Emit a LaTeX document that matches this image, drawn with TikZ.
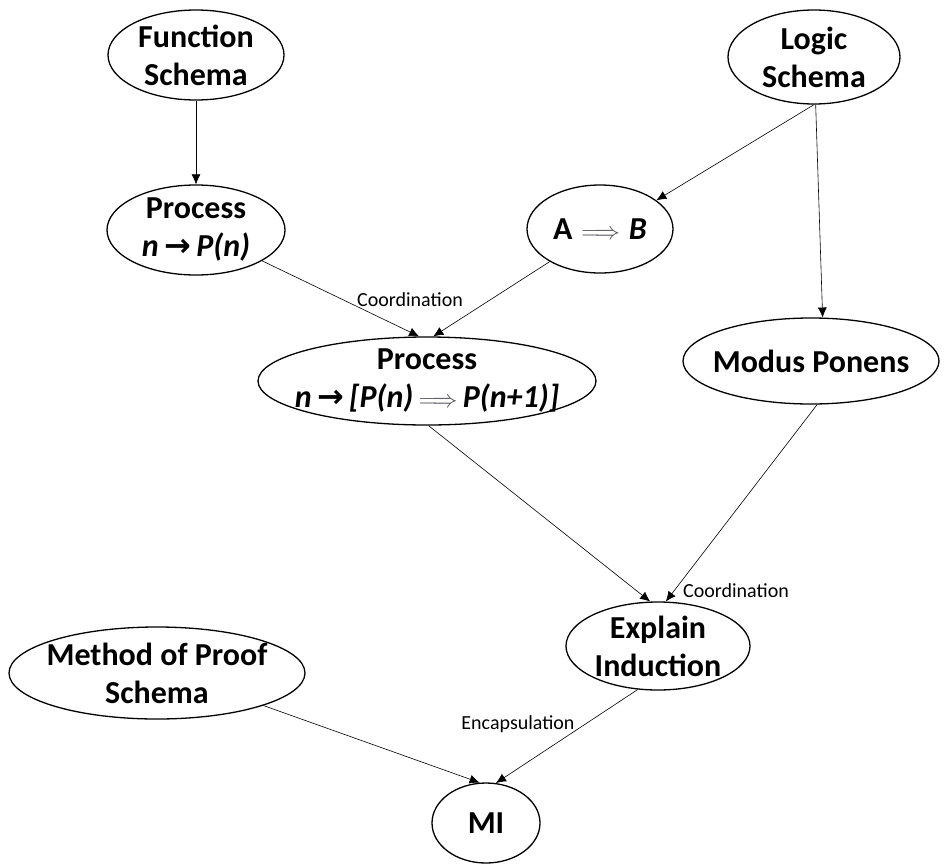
\documentclass[tikz,border=0pt]{standalone}
\usepackage{fontspec}
\setmainfont{Carlito}
\newfontfamily\dejavu{DejaVu Sans}
\usetikzlibrary{shapes.geometric,arrows.meta}
\definecolor{arrgray}{RGB}{80,80,92}
\newcommand{\rarr}{{\dejavu\bfseries\upshape →}}
\newcommand{\dimpar}{{\color{arrgray}$\Longrightarrow$}}
\begin{document}
\begin{tikzpicture}[x=1pt,y=-1pt,
  ell/.style={draw,ellipse,line width=1.3pt,inner sep=0pt},
  txt/.style={align=center,inner sep=0pt,font=\fontsize{32}{38}\selectfont\bfseries},
  conn/.style={-{Latex[length=10pt,width=9pt]},line width=0.6pt},
  lab/.style={font=\fontsize{20}{22}\selectfont}]
\useasboundingbox (0,0) rectangle (945,865);

\node[ell,minimum width=176pt,minimum height=90pt] (fs) at (196,55) {};
\node[txt] (fs-t) at (fs) {Function\\Schema};
\node[ell,minimum width=172pt,minimum height=94pt] (ls) at (814,57) {};
\node[txt] (ls-t) at (ls) {Logic\\Schema};
\node[ell,minimum width=178pt,minimum height=90pt] (p1) at (196,230) {};
\node[txt] (p1-t) at (p1) {Process\\{\itshape n}\,\rarr\,{\itshape P(n)}};
\node[ell,minimum width=146pt,minimum height=88pt] (ab) at (600,229) {};
\node[txt] (ab-t) at (ab) {A\;\dimpar\;{\itshape B}};
\node[ell,minimum width=338pt,minimum height=88pt] (pb) at (427,381) {};
\node[txt] (pb-t) at (pb) {Process\\{\itshape n}\,\rarr\,{\itshape [P(n)}\,\dimpar\,{\itshape P(n+1)]}};
\node[ell,minimum width=256pt,minimum height=86pt] (mp) at (811,361) {};
\node[txt] (mp-t) at (mp) {Modus Ponens};
\node[ell,minimum width=184pt,minimum height=88pt] (ei) at (658,646) {};
\node[txt] (ei-t) at (ei) {Explain\\Induction};
\node[ell,minimum width=296pt,minimum height=92pt] (mop) at (157,673) {};
\node[txt] (mop-t) at (mop) {Method of Proof\\Schema};
\node[ell,minimum width=108pt,minimum height=80pt] (mi) at (486,823) {};
\node[txt] (mi-t) at (mi) {MI};

\draw[conn] (fs.south) -- (p1.north);
\draw[conn] (ls.south) -- (ab.27);
\draw[conn] (ls.-88) -- (mp.75);
\draw[conn] (p1.-25) -- (pb.100);
\draw[conn] (ab.-147) -- (pb.82);
\draw[conn] (pb.-88) -- (ei.100);
\draw[conn] (mp.-82) -- (ei.80);
\draw[conn] (ei.-115) -- (mi.76);
\draw[conn] (mop.-17) -- (mi.99);

\node[lab] (l1) at (410,300) {Coordination};
\node[lab] (l2) at (736,591) {Coordination};
\node[lab] (l3) at (518,724) {Encapsulation};
\end{tikzpicture}
\end{document}
